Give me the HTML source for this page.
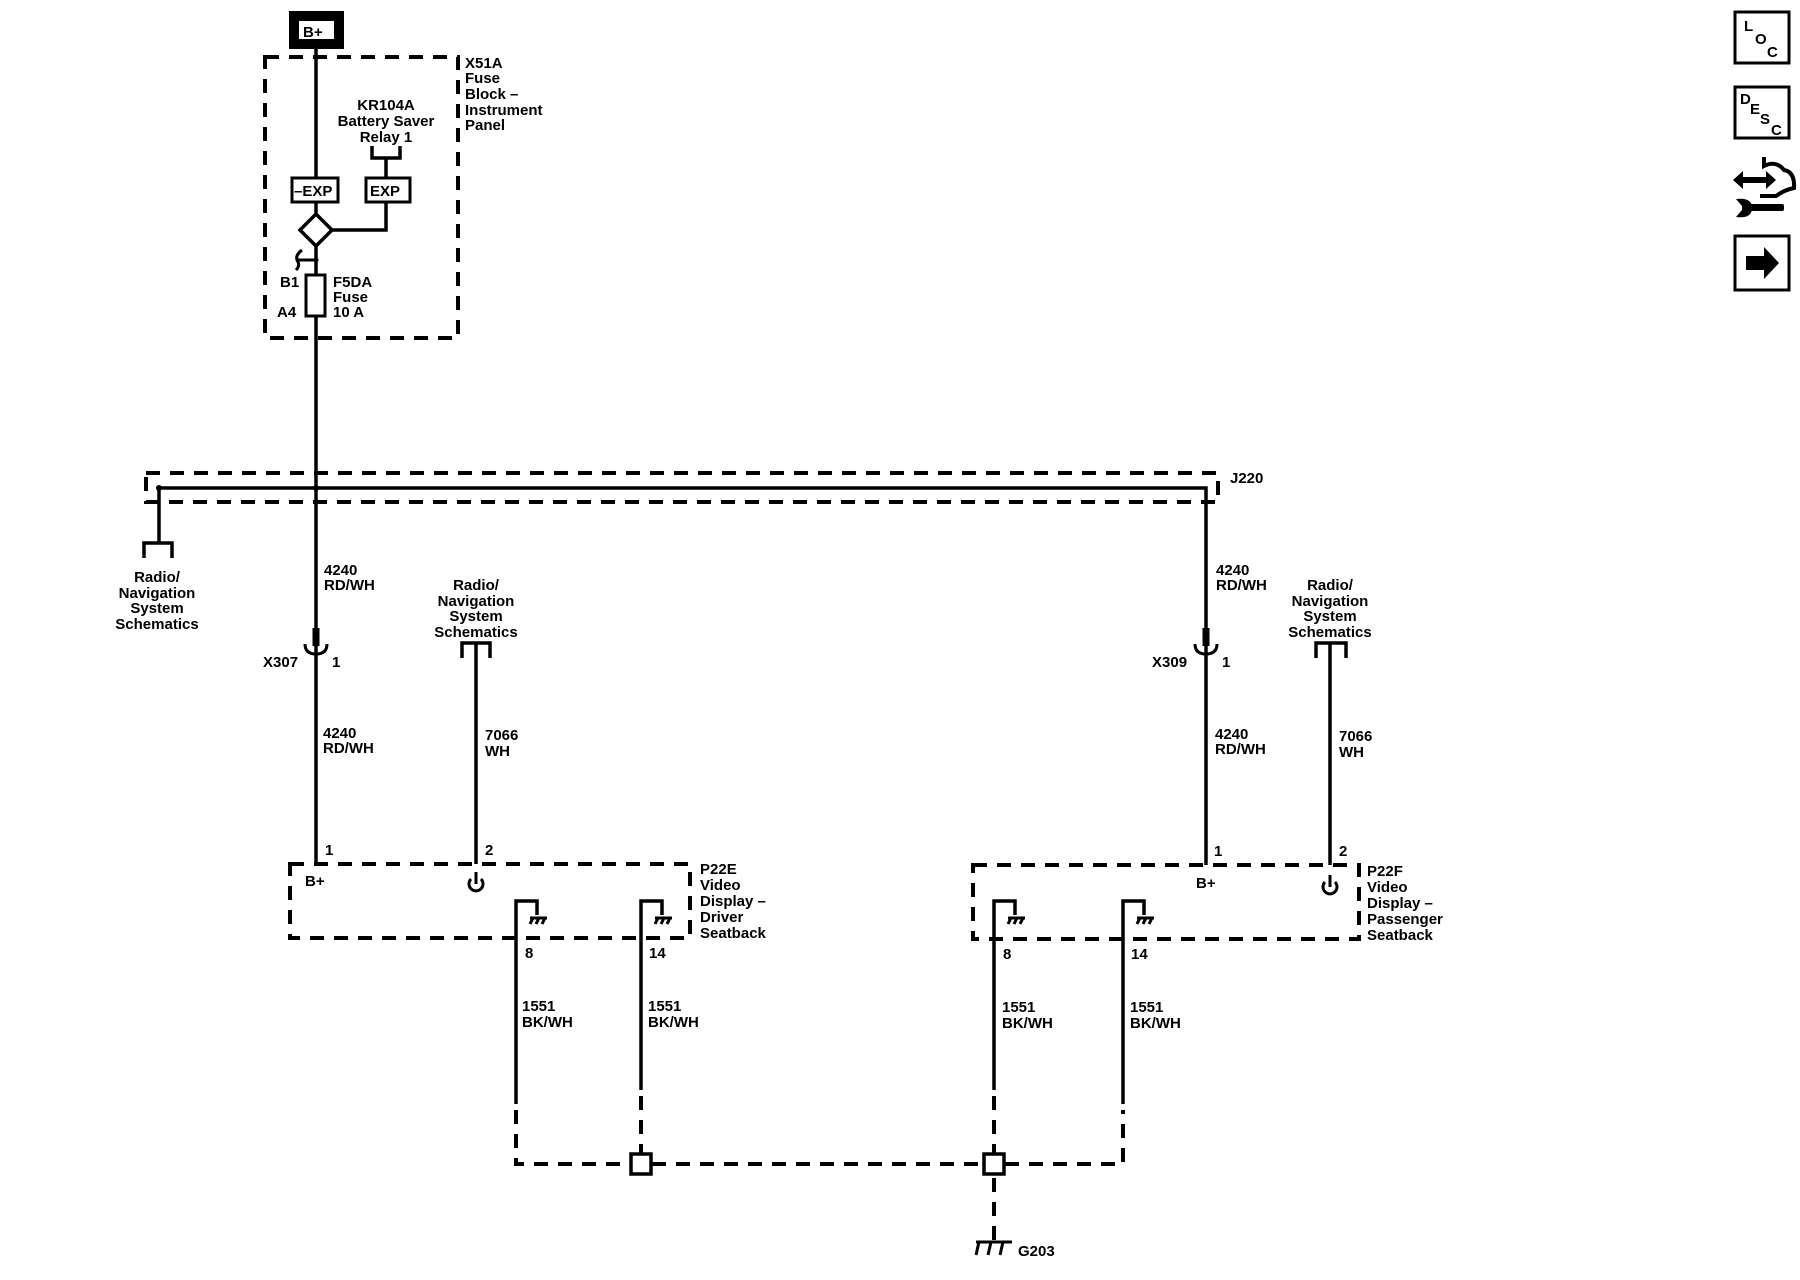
<!DOCTYPE html>
<html><head><meta charset="utf-8"><style>
html,body{margin:0;padding:0;background:#fff;}
svg{display:block;}
text{font-family:"Liberation Sans",Arial,sans-serif;font-weight:bold;font-size:15px;fill:#000;}
</style></head><body>
<svg width="1800" height="1280" viewBox="0 0 1800 1280" xmlns="http://www.w3.org/2000/svg">
<g fill="none" stroke="#000" stroke-width="3.5">
<rect x="294" y="16" width="45" height="28" stroke-width="10"/>
<rect x="265" y="57" width="193" height="281" stroke-width="4" stroke-dasharray="14,10"/>
<line x1="316" y1="49" x2="316" y2="178"/>
<rect x="292" y="178" width="46" height="24" stroke-width="3"/>
<line x1="316" y1="202" x2="316" y2="214"/>
<polyline points="372,146 372,158 400,158 400,146"/>
<line x1="386" y1="158" x2="386" y2="178"/>
<rect x="366" y="178" width="44" height="24" stroke-width="3"/>
<polyline points="386,202 386,230 332,230"/>
<polygon points="316,214 332,230 316,246 300,230"/>
<line x1="316" y1="246" x2="316" y2="275"/>
<line x1="298" y1="260" x2="316" y2="260" stroke-width="3"/>
<path d="M302,250 Q294,256 298,262 Q300,266 296,270" stroke-width="3"/>
<rect x="306" y="275" width="19" height="41" stroke-width="3"/>
<line x1="316" y1="316" x2="316" y2="864"/>
<rect x="146" y="473" width="1072" height="29" stroke-width="4" stroke-dasharray="14,10"/>
<polyline points="159,488 1206,488 1206,865"/>
<line x1="159" y1="488" x2="159" y2="543"/>
<polyline points="144,558 144,543 172,543 172,558"/>
<line x1="316" y1="628" x2="316" y2="646" stroke-width="7"/>
<path d="M305,644 Q305,654 316,654 Q327,654 327,644" stroke-width="3"/>
<line x1="1206" y1="628" x2="1206" y2="646" stroke-width="7"/>
<path d="M1195,644 Q1195,654 1206,654 Q1217,654 1217,644" stroke-width="3"/>
<polyline points="462,658 462,643 490,643 490,658"/>
<line x1="476" y1="643" x2="476" y2="864"/>
<polyline points="1316,658 1316,643 1346,643 1346,658"/>
<line x1="1330" y1="643" x2="1330" y2="865"/>
<rect x="290" y="864" width="400" height="74" stroke-width="4" stroke-dasharray="14,10"/>
<rect x="973" y="865" width="386" height="74" stroke-width="4" stroke-dasharray="14,10"/>
<path d="M471,879 A7,7 0 1 0 481,879" stroke-width="3"/><line x1="476" y1="872" x2="476" y2="884" stroke-width="3"/>
<path d="M1325,882 A7,7 0 1 0 1335,882" stroke-width="3"/><line x1="1330" y1="875" x2="1330" y2="887" stroke-width="3"/>
<polyline points="516,1104 516,901 537,901 537,915"/>
<polyline points="641,1090 641,901 662,901 662,915"/>
<polyline points="994,1090 994,901 1015,901 1015,915"/>
<polyline points="1123,1104 1123,901 1144,901 1144,915"/>
<g stroke-width="3">
<line x1="530" y1="918" x2="547" y2="918"/><line x1="533" y1="918" x2="530" y2="924"/><line x1="539" y1="918" x2="536" y2="924"/><line x1="545" y1="918" x2="542" y2="924"/>
<line x1="655" y1="918" x2="672" y2="918"/><line x1="658" y1="918" x2="655" y2="924"/><line x1="664" y1="918" x2="661" y2="924"/><line x1="670" y1="918" x2="667" y2="924"/>
<line x1="1008" y1="918" x2="1025" y2="918"/><line x1="1011" y1="918" x2="1008" y2="924"/><line x1="1017" y1="918" x2="1014" y2="924"/><line x1="1023" y1="918" x2="1020" y2="924"/>
<line x1="1137" y1="918" x2="1154" y2="918"/><line x1="1140" y1="918" x2="1137" y2="924"/><line x1="1146" y1="918" x2="1143" y2="924"/><line x1="1152" y1="918" x2="1149" y2="924"/>
</g>
<g stroke-width="4" stroke-dasharray="14,10">
<polyline points="516,1110 516,1164 630,1164"/>
<line x1="652" y1="1164" x2="983" y2="1164"/>
<polyline points="1005,1164 1123,1164 1123,1110"/>
<line x1="641" y1="1096" x2="641" y2="1153"/>
<line x1="994" y1="1096" x2="994" y2="1153"/>
<line x1="994" y1="1178" x2="994" y2="1240"/>
</g>
<rect x="631" y="1154" width="20" height="20" stroke-width="3.5"/>
<rect x="984" y="1154" width="20" height="20" stroke-width="3.5"/>
<g stroke-width="3">
<line x1="976" y1="1242" x2="1012" y2="1242"/>
<line x1="979" y1="1242" x2="976" y2="1255"/><line x1="991" y1="1242" x2="988" y2="1255"/><line x1="1003" y1="1242" x2="1000" y2="1255"/>
</g>
<rect x="1735" y="12" width="54" height="51" stroke-width="3"/>
<rect x="1735" y="87" width="54" height="51" stroke-width="3"/>
<rect x="1735" y="236" width="54" height="54" stroke-width="3"/>
<path d="M1764,157 L1764,166 Q1776,160 1784,170 Q1795,172 1794,188 Q1784,190 1776,196 L1760,196" stroke-width="4"/>
</g>
<g fill="#000">
<circle cx="159" cy="488" r="3"/><circle cx="316" cy="488" r="3"/><circle cx="316" cy="260" r="2.5"/>
<polygon points="1733,180 1743,171 1743,177 1766,177 1766,171 1776,180 1766,189 1766,183 1743,183 1743,189"/>
<rect x="1746" y="204" width="38" height="7" rx="2"/>
<path d="M1736,199 Q1752,197 1752,208 Q1752,219 1736,217 L1742,210 L1742,206 Z"/>
<polygon points="1746,256 1764,256 1764,247 1779,263 1764,279 1764,270 1746,270"/>
</g>
<text x="303" y="37" font-size="15">B+</text>
<text x="294" y="196" font-size="14">–EXP</text>
<text x="370" y="196" font-size="14">EXP</text>
<g text-anchor="middle"><text x="386" y="110">KR104A</text><text x="386" y="126">Battery Saver</text><text x="386" y="142">Relay 1</text></g>
<text x="465" y="68">X51A</text><text x="465" y="83">Fuse</text><text x="465" y="99">Block –</text><text x="465" y="115">Instrument</text><text x="465" y="130">Panel</text>
<text x="280" y="287">B1</text><text x="277" y="317">A4</text>
<text x="333" y="287">F5DA</text><text x="333" y="302">Fuse</text><text x="333" y="317">10 A</text>
<text x="1230" y="483">J220</text>
<g text-anchor="middle">
<text x="157" y="582">Radio/</text><text x="157" y="598">Navigation</text><text x="157" y="613">System</text><text x="157" y="629">Schematics</text>
<text x="476" y="590">Radio/</text><text x="476" y="606">Navigation</text><text x="476" y="621">System</text><text x="476" y="637">Schematics</text>
<text x="1330" y="590">Radio/</text><text x="1330" y="606">Navigation</text><text x="1330" y="621">System</text><text x="1330" y="637">Schematics</text>
</g>
<text x="324" y="575">4240</text><text x="324" y="590">RD/WH</text>
<text x="1216" y="575">4240</text><text x="1216" y="590">RD/WH</text>
<text x="263" y="667">X307</text><text x="332" y="667">1</text>
<text x="1152" y="667">X309</text><text x="1222" y="667">1</text>
<text x="323" y="738">4240</text><text x="323" y="753">RD/WH</text>
<text x="1215" y="739">4240</text><text x="1215" y="754">RD/WH</text>
<text x="485" y="740">7066</text><text x="485" y="756">WH</text>
<text x="1339" y="741">7066</text><text x="1339" y="757">WH</text>
<text x="325" y="855">1</text><text x="485" y="855">2</text>
<text x="1214" y="856">1</text><text x="1339" y="856">2</text>
<text x="305" y="886">B+</text><text x="1196" y="888">B+</text>
<text x="700" y="874">P22E</text><text x="700" y="890">Video</text><text x="700" y="906">Display –</text><text x="700" y="922">Driver</text><text x="700" y="938">Seatback</text>
<text x="1367" y="876">P22F</text><text x="1367" y="892">Video</text><text x="1367" y="908">Display –</text><text x="1367" y="924">Passenger</text><text x="1367" y="940">Seatback</text>
<text x="525" y="958">8</text><text x="649" y="958">14</text>
<text x="1003" y="959">8</text><text x="1131" y="959">14</text>
<text x="522" y="1011">1551</text><text x="522" y="1027">BK/WH</text>
<text x="648" y="1011">1551</text><text x="648" y="1027">BK/WH</text>
<text x="1002" y="1012">1551</text><text x="1002" y="1028">BK/WH</text>
<text x="1130" y="1012">1551</text><text x="1130" y="1028">BK/WH</text>
<text x="1018" y="1256" font-size="13" font-weight="normal">G203</text>
<text x="1744" y="31" font-size="13">L</text><text x="1755" y="44" font-size="13">O</text><text x="1767" y="57" font-size="13">C</text>
<text x="1740" y="104" font-size="13">D</text><text x="1750" y="114" font-size="13">E</text><text x="1760" y="124" font-size="13">S</text><text x="1771" y="135" font-size="13">C</text>
</svg>
</body></html>
